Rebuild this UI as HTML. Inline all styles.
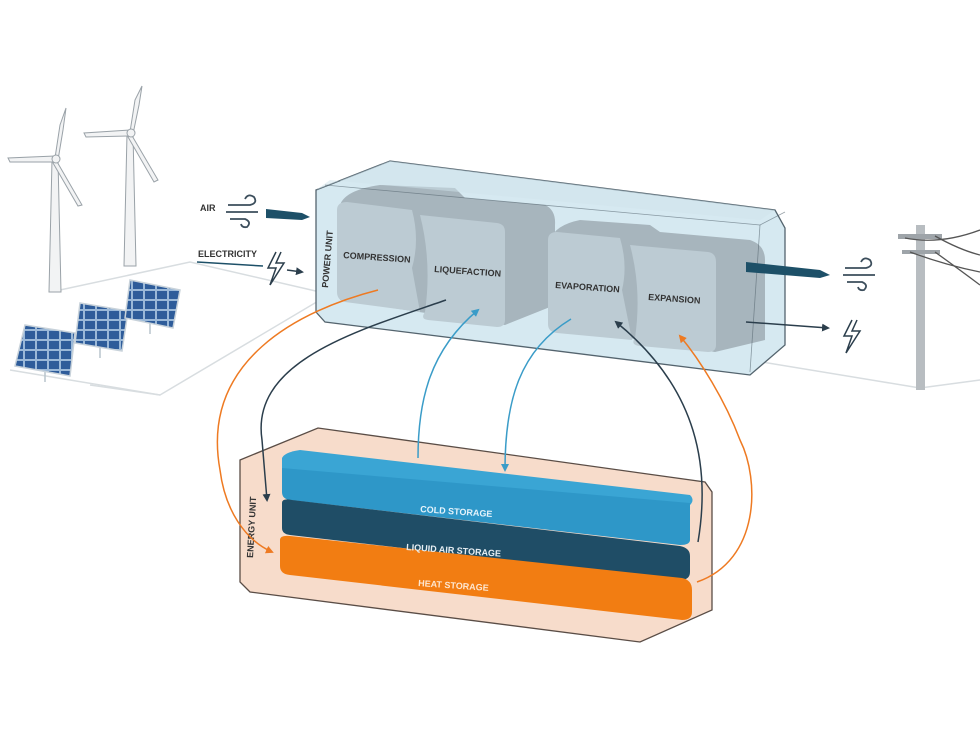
<!DOCTYPE html>
<html><head><meta charset="utf-8"><style>
html,body{margin:0;padding:0;background:#fff;}
svg{display:block;}
text{font-family:"Liberation Sans",sans-serif;font-weight:bold;}
</style></head><body>
<svg width="980" height="735" viewBox="0 0 980 735" xmlns="http://www.w3.org/2000/svg">
<defs>
<marker id="ad" markerWidth="8" markerHeight="8" refX="6" refY="4" orient="auto" markerUnits="userSpaceOnUse"><path d="M0,0 L8,4 L0,8 Z" fill="#2b3e4c"/></marker>
<marker id="ab" markerWidth="8" markerHeight="8" refX="6" refY="4" orient="auto" markerUnits="userSpaceOnUse"><path d="M0,0 L8,4 L0,8 Z" fill="#3a9cc8"/></marker>
<marker id="ao" markerWidth="8" markerHeight="8" refX="6" refY="4" orient="auto" markerUnits="userSpaceOnUse"><path d="M0,0 L8,4 L0,8 Z" fill="#ee7a22"/></marker>
<pattern id="sp" width="12" height="10" patternUnits="userSpaceOnUse"><rect width="12" height="10" fill="#9ab8d8"/><rect x="1" y="1" width="10" height="8" fill="#2e5c9a"/></pattern>
</defs>

<g stroke="#d8dde0" stroke-width="1.5" fill="none">
<path d="M60,290 L190,262 L320,292"/>
<path d="M10,370 L160,395 L320,300"/>
<path d="M160,395 L90,385"/>
<path d="M750,360 L920,388"/>
<path d="M920,388 L980,380"/>
</g>

<g fill="#f2f3f4" stroke="#9aa2a8" stroke-width="1">
<path d="M52,160 L58,160 L61,292 L49,292 Z"/>
<path d="M55,158 L60,125 L66,108 L63,130 L58,160 Z"/>
<path d="M55,156 L8,158 L10,162 L55,162 Z"/>
<path d="M56,160 L82,205 L78,206 L53,163 Z"/>
<circle cx="56" cy="159" r="4"/>
<path d="M127,134 L133,134 L136,266 L124,266 Z"/>
<path d="M130,132 L135,100 L142,86 L139,105 L133,134 Z"/>
<path d="M130,130 L84,133 L86,137 L130,136 Z"/>
<path d="M131,134 L158,180 L154,182 L128,137 Z"/>
<circle cx="131" cy="133" r="4"/>
</g>

<g stroke="#b8c4cc" stroke-width="1.5">
<line x1="45" y1="370" x2="45" y2="382"/><line x1="100" y1="345" x2="100" y2="358"/><line x1="150" y1="322" x2="150" y2="334"/>
</g>
<g stroke="#c8d2da" stroke-width="1.5">
<polygon points="25,325 75,333 70,376 15,366" fill="url(#sp)"/>
<polygon points="80,303 128,311 122,351 75,343" fill="url(#sp)"/>
<polygon points="130,280 180,290 173,328 125,318" fill="url(#sp)"/>
</g>

<g>
<rect x="916" y="225" width="9" height="165" fill="#b8bdc1"/>
<rect x="898" y="234" width="44" height="5" fill="#9ea4a9"/>
<rect x="902" y="250" width="38" height="4" fill="#9ea4a9"/>
<g stroke="#555" stroke-width="1.3" fill="none">
<path d="M905,238 Q940,245 980,230"/>
<path d="M935,236 Q960,250 980,255"/>
<path d="M910,252 Q945,265 980,272"/>
<path d="M935,252 Q960,270 980,285"/>
</g>
</g>

<text x="200" y="211" font-size="9" fill="#333">AIR</text>
<g stroke="#3c4e5c" stroke-width="1.8" fill="none">
<path d="M228,205 L250,205 Q258,203 254,197 Q248,193 245,199"/>
<path d="M226,212 L258,212"/>
<path d="M230,219 L245,219 Q252,222 247,227 Q242,228 241,224"/>
</g>
<polygon points="266,209 302,213 310,217 302,220 266,218" fill="#1d5068"/>
<text x="198" y="257" font-size="9" fill="#333">ELECTRICITY</text>
<line x1="197" y1="262" x2="263" y2="266" stroke="#1d5068" stroke-width="1.5"/>
<path d="M276,252 L268,268 L276,268 L270,285 L284,263 L276,263 L281,252" fill="none" stroke="#2b3e4c" stroke-width="1.5"/>
<line x1="287" y1="270" x2="302" y2="272" stroke="#2b3e4c" stroke-width="1.5" marker-end="url(#ad)"/>

<polygon points="316,190 390,161 775,210 785,228 785,345 750,375 325,322 316,312" fill="#d6e9f1" stroke="#54646e" stroke-width="1.3"/>
<g fill="#a7b5bd">
<path d="M340,205 Q345,190 380,185 L455,188 L465,198 L545,205 Q556,210 555,225 L555,305 L505,325 L340,300 Z"/>
<path d="M550,240 Q555,225 580,220 L650,225 L660,232 L750,240 Q765,245 765,260 L765,340 L715,352 L550,325 Z"/>
</g>
<g fill="#bccbd3">
<path d="M337,210 Q337,202 347,202 L412,210 Q420,240 412,268 L420,312 L345,302 Q337,300 337,292 Z"/>
<path d="M420,215 L497,223 Q505,224 505,232 L505,320 Q505,327 497,327 L428,320 Q420,319 425,312 Q432,262 420,215 Z"/>
<path d="M548,240 Q548,232 557,232 L620,238 Q628,265 622,290 L632,340 L557,333 Q548,332 548,324 Z"/>
<path d="M630,245 L708,252 Q716,253 716,262 L716,345 Q716,352 708,352 L640,346 Q630,345 635,338 Q642,290 630,245 Z"/>
</g>
<polygon points="316,190 390,161 775,210 760,220 330,180" fill="#cfe3ec" opacity="0.5"/>
<line x1="325" y1="185" x2="760" y2="225" stroke="#54646e" stroke-width="0.8" opacity="0.6"/>
<line x1="760" y1="225" x2="785" y2="212" stroke="#54646e" stroke-width="0.8" opacity="0.6"/>
<line x1="760" y1="225" x2="750" y2="372" stroke="#54646e" stroke-width="0.8" opacity="0.6"/>
<text transform="translate(328,288) rotate(-85)" font-size="9" fill="#333">POWER UNIT</text>
<text x="343" y="258" font-size="9" fill="#333" transform="rotate(4 343 258)">COMPRESSION</text>
<text x="434" y="272" font-size="9" fill="#333" transform="rotate(4 434 272)">LIQUEFACTION</text>
<text x="555" y="288" font-size="9" fill="#333" transform="rotate(4 555 288)">EVAPORATION</text>
<text x="648" y="300" font-size="9" fill="#333" transform="rotate(4 648 300)">EXPANSION</text>

<polygon points="746,262 820,270 830,275 820,278 746,272" fill="#1d5068"/>
<g stroke="#3c4e5c" stroke-width="1.8" fill="none">
<path d="M845,268 L866,268 Q874,266 870,260 Q864,256 861,262"/>
<path d="M843,275 L875,275"/>
<path d="M847,282 L862,282 Q869,285 864,290 Q859,291 858,287"/>
</g>
<line x1="746" y1="322" x2="828" y2="328" stroke="#2b3e4c" stroke-width="1.5" marker-end="url(#ad)"/>
<path d="M852,320 L844,336 L852,336 L846,353 L860,331 L852,331 L857,320" fill="none" stroke="#2b3e4c" stroke-width="1.5"/>

<polygon points="240,460 318,428 705,482 712,492 712,610 640,642 250,592 240,582" fill="#f7dccb" stroke="#5a4d46" stroke-width="1.3"/>
<path d="M282,458 Q285,452 300,450 L690,495 Q695,500 690,505 L282,470 Z" fill="#3aa5d4"/>
<path d="M282,468 L690,503 L690,540 Q690,545 680,545 L290,500 Q282,499 282,492 Z" fill="#2e97c8"/>
<path d="M282,503 Q282,498 292,500 L680,546 Q690,548 690,556 L690,572 Q690,580 680,580 L290,535 Q282,534 282,528 Z" fill="#1f4d66"/>
<path d="M280,540 Q280,535 290,536 L682,578 Q692,580 692,590 L692,612 Q692,620 682,620 L290,575 Q280,574 280,566 Z" fill="#f27d12"/>
<text x="420" y="512" font-size="9" fill="#e4f3fb" font-weight="normal" transform="rotate(4 420 512)">COLD STORAGE</text>
<text x="406" y="550" font-size="9" fill="#e6eef3" transform="rotate(4 406 550)">LIQUID AIR STORAGE</text>
<text x="418" y="586" font-size="9" fill="#fde6cf" font-weight="normal" transform="rotate(4 418 586)">HEAT STORAGE</text>
<text transform="translate(253,558) rotate(-87)" font-size="9" fill="#333">ENERGY UNIT</text>

<g fill="none" stroke-width="1.5">
<path d="M378,290 C300,310 200,360 220,470 C225,510 245,540 272,552" stroke="#ee7a22" marker-end="url(#ao)"/>
<path d="M446,300 C360,330 250,360 262,440 L267,500" stroke="#2b3e4c" marker-end="url(#ad)"/>
<path d="M418,458 C418,400 430,350 478,310" stroke="#3a9cc8" marker-end="url(#ab)"/>
<path d="M571,319 C520,350 505,400 505,470" stroke="#3a9cc8" marker-end="url(#ab)"/>
<path d="M698,542 C710,470 700,390 616,322" stroke="#2b3e4c" marker-end="url(#ad)"/>
<path d="M697,582 C760,560 760,480 740,440 C725,400 700,360 680,336" stroke="#ee7a22" marker-end="url(#ao)"/>
</g>
</svg>
</body></html>
